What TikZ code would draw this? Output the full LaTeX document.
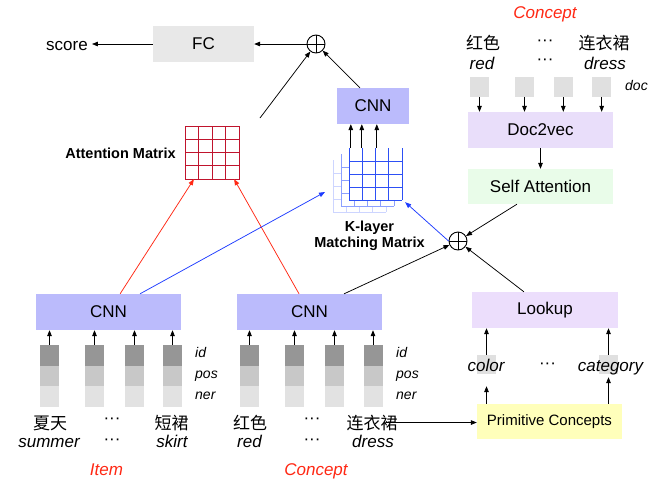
\documentclass[tikz,border=0pt]{standalone}
\usepackage{fontspec}
\setmainfont{Liberation Sans}
\newfontfamily\cjk{Noto Sans CJK SC}
\usetikzlibrary{arrows.meta,calc}
\definecolor{cnnblue}{RGB}{187,187,252}
\definecolor{docpurple}{RGB}{233,222,250}
\definecolor{lookpurple}{RGB}{236,222,252}
\definecolor{selfgreen}{RGB}{233,252,233}
\definecolor{pcyellow}{RGB}{255,255,187}
\definecolor{fcgray}{RGB}{232,232,232}
\definecolor{sqgray}{RGB}{224,224,224}
\definecolor{gA}{RGB}{150,150,150}
\definecolor{gB}{RGB}{200,200,200}
\definecolor{gC}{RGB}{226,226,226}
\definecolor{redline}{RGB}{255,40,20}
\definecolor{blueline}{RGB}{30,60,255}
\definecolor{attred}{RGB}{192,20,45}
\definecolor{mmA}{RGB}{45,80,245}
\definecolor{mmB}{RGB}{140,160,255}
\definecolor{mmC}{RGB}{205,213,255}
\tikzset{
  arr/.style={-{Triangle[length=6pt,width=4.6pt]}, line width=0.75pt},
  box/.style={rectangle, inner sep=0, minimum height=36pt, font=\fontsize{17}{20}\selectfont},
  txt/.style={inner sep=0, font=\fontsize{17}{20}\selectfont},
  itx/.style={inner sep=0, font=\fontsize{17}{20}\selectfont\itshape},
  cjkt/.style={inner sep=0, font=\cjk\fontsize{17}{20}\selectfont},
  small/.style={inner sep=0, anchor=base west, font=\fontsize{14}{16}\selectfont\itshape},
  bold/.style={inner sep=0, anchor=base, font=\fontsize{14.5}{17}\selectfont\bfseries},
  dots/.style={inner sep=0, font=\fontsize{17}{20}\selectfont},
  oplus/.style={circle, draw, line width=0.9pt, minimum size=18pt, inner sep=0,
    path picture={\draw[line width=0.9pt] (path picture bounding box.north) -- (path picture bounding box.south)
      (path picture bounding box.west) -- (path picture bounding box.east);}},
  mlayer/.style={line width=0.9pt},
}
\begin{document}
\begin{tikzpicture}[x=1pt,y=-1pt]
\useasboundingbox[fill=white] (0,0) rectangle (670,483);

% ---------- main boxes ----------
\node[box, fill=fcgray, minimum width=101pt] (fc) at (203.5,44) {FC};
\node[txt, inner sep=4pt, anchor=base] (score) at (67,50) {score};
\node[oplus] (plusT) at (316,44) {};
\node[box, fill=cnnblue, minimum width=72pt] (cnnT) at (373,106) {CNN};
\node[box, fill=docpurple, minimum width=145pt] (d2v) at (540.5,130) {Doc2vec};
\node[box, fill=selfgreen, minimum width=145pt, minimum height=35pt] (sa) at (540.5,186.5) {Self Attention};
\node[oplus] (plusB) at (458,241) {};
\node[box, fill=cnnblue, minimum width=145pt] (cnnL) at (108.5,312) {CNN};
\node[box, fill=cnnblue, minimum width=145pt] (cnnR) at (309.5,312) {CNN};
\node[box, fill=lookpurple, minimum width=146pt] (lookup) at (545,310) {Lookup};
\node[box, fill=pcyellow, minimum width=145pt, minimum height=35pt, font=\fontsize{15}{18}\selectfont] (pc) at (549.5,421.5) {Primitive Concepts};

% ---------- attention matrix ----------
\draw[attred, line width=0.9pt] (185,126) rectangle (239,179);
\foreach \i in {1,2,3}{
  \draw[attred, line width=0.9pt] (185+13.5*\i,126) -- (185+13.5*\i,179);
  \draw[attred, line width=0.9pt] (185,126+13.25*\i) -- (239,126+13.25*\i);
}
\node[inner sep=0, minimum width=54pt, minimum height=53pt] (attn) at (212,152.5) {};
\node[bold] (attlab) at (120.5,158) {Attention Matrix};
\coordinate (attout) at (260,118);

% ---------- K-layer matching matrix ----------
\fill[white] (333,160) rectangle (386,212);
\foreach \i in {0,1,2,3,4}{ \draw[mlayer, mmC] (333+13.25*\i,160) -- (333+13.25*\i,212); }
\foreach \j in {173,186,199,212}{ \draw[mlayer, mmC] (333,\j) -- (386,\j); }
\fill[white] (341,154) rectangle (394,206);
\foreach \i in {0,1,2,3,4}{ \draw[mlayer, mmB] (341+13.25*\i,154) -- (341+13.25*\i,206); }
\foreach \j in {167,180,193,206}{ \draw[mlayer, mmB] (341,\j) -- (394,\j); }
\fill[white] (349,148) rectangle (402,200);
\foreach \i in {0,1,2,3,4}{ \draw[mlayer, mmA] (349+13.25*\i,148) -- (349+13.25*\i,200); }
\foreach \j in {161,174,187,200}{ \draw[mlayer, mmA] (349,\j) -- (402,\j); }

\node[inner sep=0, minimum width=53pt, minimum height=52pt] (mm) at (375.5,174) {};
\node[bold] (kl1) at (369.5,231) {K-layer};
\node[bold] (kl2) at (369.5,247) {Matching Matrix};
\coordinate (mmin) at (325,192);
\coordinate (mt1) at ($(mm.north west)+(2,0)$);
\coordinate (mt2) at ($(mm.north west)+(13,0)$);
\coordinate (mt3) at ($(mm.north west)+(28,0)$);
\foreach \k in {1,2,3}{
  \draw[arr] (mt\k) -- (mt\k |- cnnT.south);
}

% ---------- token columns ----------
\foreach \i/\x in {1/49.5,2/94.5,3/134.5,4/172.5}{
  \fill[gA] (\x-9.5,345) rectangle (\x+9.5,366);
  \fill[gB] (\x-9.5,366) rectangle (\x+9.5,386);
  \fill[gC] (\x-9.5,386) rectangle (\x+9.5,407);
  \node[inner sep=0, minimum width=19pt, minimum height=21pt] (tl\i) at (\x,355.5) {};
  \draw[arr] (tl\i.north) -- (tl\i.north |- cnnL.south);
}
\foreach \i/\x in {1/249.5,2/294.5,3/334.5,4/373}{
  \fill[gA] (\x-9.5,345) rectangle (\x+9.5,366);
  \fill[gB] (\x-9.5,366) rectangle (\x+9.5,386);
  \fill[gC] (\x-9.5,386) rectangle (\x+9.5,407);
  \node[inner sep=0, minimum width=19pt, minimum height=21pt] (tr\i) at (\x,355.5) {};
  \draw[arr] (tr\i.north) -- (tr\i.north |- cnnR.south);
}
\node[small] (idL) at (195,357) {id};
\node[small] (posL) at (195,378) {pos};
\node[small] (nerL) at (195,399) {ner};
\node[small] (idR) at (396,357) {id};
\node[small] (posR) at (396,378) {pos};
\node[small] (nerR) at (396,399) {ner};

% ---------- bottom words ----------
\node[cjkt, anchor=base] (w1) at (50,429) {夏天};
\node[itx, anchor=base] (e1) at (49,447) {summer};
\node[dots] (d1) at (112,421) {···};
\node[dots] (d2) at (112,442) {···};
\node[cjkt, anchor=base] (w3) at (171.5,429) {短裙};
\node[itx, anchor=base] (e3) at (172,447) {skirt};
\node[cjkt, anchor=base] (r1) at (250,429) {红色};
\node[itx, anchor=base] (re1) at (249.5,447) {red};
\node[dots] (d3) at (312,421) {···};
\node[dots] (d4) at (312,442) {···};
\node[cjkt, anchor=base] (r3) at (372,429) {连衣裙};
\node[itx, anchor=base] (re3) at (373,447) {dress};
\node[itx, anchor=base, text=redline] (item) at (106.5,475) {Item};
\node[itx, anchor=base, text=redline] (conc) at (316,475) {Concept};

% ---------- top right concept ----------
\node[itx, anchor=base, text=redline] (conc2) at (545,18) {Concept};
\node[cjkt, anchor=base] (t1) at (483,49) {红色};
\node[itx, anchor=base] (te1) at (482,69) {red};
\node[dots] (d5) at (545,43) {···};
\node[dots] (d6) at (545,62) {···};
\node[cjkt, anchor=base] (t3) at (604,49) {连衣裙};
\node[itx, anchor=base] (te3) at (605,69) {dress};
\foreach \i/\x in {1/479.5,2/524.5,3/563.3,4/601.7}{
  \node[fill=sqgray, inner sep=0, minimum size=19.5pt] (ds\i) at (\x,87) {};
  \draw[arr] (ds\i.south) -- (ds\i.south |- d2v.north);
}
\node[small] (doclab) at (625,90) {doc};

% ---------- primitive concepts ----------
\node[fill=sqgray, inner sep=0, minimum size=19pt] (sqc) at (486.5,364.5) {};
\node[fill=sqgray, inner sep=0, minimum size=19pt] (sqk) at (608.5,364.5) {};
\node[itx, anchor=base, text height=16pt, text depth=15pt] (col) at (486,371) {color};
\node[itx, anchor=base, text height=16pt, text depth=6pt] (cat) at (610.5,371) {category};
\node[dots] (d7) at (547.5,366) {···};
\draw[arr] (sqc |- pc.north) -- (sqc |- col.south);
\draw[arr] (sqk |- pc.north) -- (sqk |- cat.south);
\draw[arr] (sqc.north) -- (sqc.north |- lookup.south);
\draw[arr] (sqk.north) -- (sqk.north |- lookup.south);

% ---------- connectors ----------
\draw[arr] (fc.west) -- (fc.west -| score.east);
\draw[arr] (plusT.west) -- (fc.east);
\draw[arr] (attout) -- (plusT);
\draw[arr] ($(cnnT.north west)!0.32!(cnnT.north east)$) -- (plusT);
\draw[arr] (d2v.south) -- (sa.north);
\draw[arr] ($(sa.south west)!0.338!(sa.south east)$) -- (plusB);
\draw[arr] ($(lookup.north west)!0.356!(lookup.north east)$) -- (plusB);
\draw[arr] ($(cnnR.north west)!0.738!(cnnR.north east)$) -- (plusB);
\draw[arr, blueline] (plusB.west) -- ($(mm.south east)+(3,2)$);
\draw[arr, redline] ($(cnnL.north west)!0.58!(cnnL.north east)$) -- ($(attn.south west)!0.167!(attn.south east)$);
\draw[arr, redline] ($(cnnR.north west)!0.428!(cnnR.north east)$) -- ($(attn.south west)!0.907!(attn.south east)$);
\draw[arr, blueline] ($(cnnL.north west)!0.717!(cnnL.north east)$) -- (mmin);
\draw[arr] ([xshift=-12pt]r3.east) -- (r3.east -| pc.west);
\end{tikzpicture}
\end{document}
